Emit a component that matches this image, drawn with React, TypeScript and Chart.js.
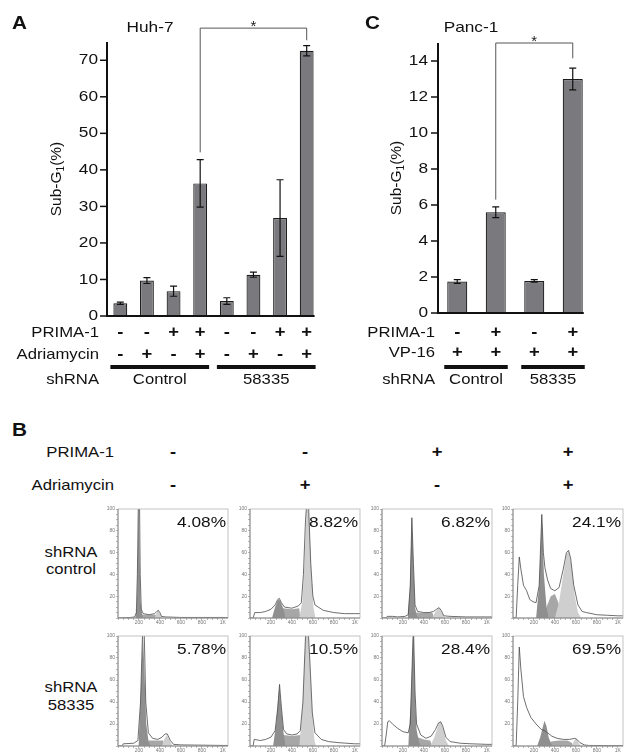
import React, { useEffect, useRef } from "react";
import { Chart, registerables } from "chart.js";
Chart.register(...registerables);

const FONT = "'Liberation Sans', Arial, Helvetica, sans-serif";
const SX = 1.15;

// ---------- Panel A (Huh-7) ----------
const huhLabels = ["C1", "C2", "C3", "C4", "K1", "K2", "K3", "K4"];
const huhPrima = ["-", "-", "+", "+", "-", "-", "+", "+"];
const huhAdriamycin = ["-", "+", "-", "+", "-", "+", "-", "+"];
const huhValues = [3.5, 9.7, 6.8, 36.3, 4.1, 11.3, 26.8, 72.6];
const huhErrors = [0.3, 0.8, 1.4, 6.5, 0.9, 0.7, 10.5, 1.4];
const huhTicks = [0, 10, 20, 30, 40, 50, 60, 70];
const huhGroups = ["Control", "58335"];
const huhGroupSpans = [[0, 3], [4, 7]];

// ---------- Panel C (Panc-1) ----------
const pancLabels = ["C1", "C2", "K1", "K2"];
const pancPrima = ["-", "+", "-", "+"];
const pancVP16 = ["+", "+", "+", "+"];
const pancValues = [1.75, 5.6, 1.78, 13.0];
const pancErrors = [0.1, 0.3, 0.07, 0.6];
const pancTicks = [0, 2, 4, 6, 8, 10, 12, 14];
const pancGroups = ["Control", "58335"];
const pancGroupSpans = [[0, 1], [2, 3]];

// ---------- Panel B (histograms) ----------
const bPrima = ["-", "-", "+", "+"];
const bAdriamycin = ["-", "+", "-", "+"];
const bRowLabels = [["shRNA", "control"], ["shRNA", "58335"]];
const bPercents = [["4.08%", "8.82%", "6.82%", "24.1%"], ["5.78%", "10.5%", "28.4%", "69.5%"]];
const histXMajor = [200, 400, 600, 800, 1000];
const histXMajorLabels = ["200", "400", "600", "800", "1K"];
const histYMajor = [20, 40, 60, 80, 100];

// shRNA control
const ctrlBaseOutline = [[0,0],[120,0.5],[160,1],[175,5],[185,40],[195,110],[205,110],[212,40],[222,8],[240,4],[300,3],[350,4],[370,6],[385,7],[400,5],[415,1.5],[450,1],[600,0.5],[1000,0.5],[1050,0.3]];
const ctrlBaseG1 = [[165,0],[180,10],[190,60],[197,110],[205,60],[215,15],[230,4],[240,0]];
const ctrlBaseS = [[220,0],[225,3],[300,3],[360,3],[370,0]];
const ctrlBaseG2 = [[350,0],[365,4],[385,7],[400,4],[420,0]];

const ctrlAdrOutline = [[0,0],[30,0],[45,5],[100,5],[150,6],[200,8],[240,12],[265,17],[280,18],[300,14],[330,10],[400,9],[460,11],[490,14],[510,40],[530,90],[545,110],[560,100],[580,50],[600,20],[620,12],[700,7],[800,5],[900,4],[1000,4],[1050,4]];
const ctrlAdrG1 = [[210,0],[240,10],[265,16],[280,17],[300,13],[320,8],[340,0]];
const ctrlAdrS = [[300,0],[310,9],[400,8],[470,9],[480,0]];
const ctrlAdrG2 = [[470,0],[500,15],[520,50],[540,100],[550,110],[565,90],[585,40],[605,10],[625,0]];

const ctrlPrimaOutline = [[0,0],[40,0],[50,1.5],[100,1.5],[150,1],[220,1.5],[250,3],[270,30],[285,92],[300,50],[315,12],[340,6],[400,5],[450,5],[490,6],[520,8],[545,9.5],[565,7],[590,2],[650,1.5],[800,1],[1000,1],[1050,1]];
const ctrlPrimaG1 = [[245,0],[265,25],[285,92],[300,48],[315,10],[330,3],[345,0]];
const ctrlPrimaS = [[300,0],[320,5],[400,4.5],[480,5],[500,0]];
const ctrlPrimaG2 = [[480,0],[510,6],[545,9.5],[570,5],[600,0]];

const ctrlBothOutline = [[0,0],[30,0],[45,30],[60,56],[75,45],[100,30],[130,25],[160,17],[190,15],[220,14],[250,30],[275,95],[290,60],[305,46],[330,35],[360,27],[400,25],[440,28],[480,45],[510,60],[530,62],[550,55],[580,30],[620,12],[660,6],[700,5],[800,3],[900,2.5],[1000,2],[1050,2]];
const ctrlBothG1 = [[220,0],[250,30],[275,95],[295,40],[320,10],[340,0]];
const ctrlBothS = [[300,0],[320,10],[360,20],[400,22],[430,15],[460,5],[480,0]];
const ctrlBothG2 = [[400,0],[440,15],[480,40],[510,58],[530,62],[555,50],[590,20],[620,5],[650,0]];

// shRNA 58335
const kdBaseOutline = [[0,0],[40,0],[50,2],[150,2.5],[190,5],[215,40],[235,105],[250,105],[265,40],[290,12],[330,7],[380,6],[420,8],[450,11],[470,11],[500,5],[530,1.5],[600,1],[1000,0.5],[1050,0.5]];
const kdBaseG1 = [[195,0],[215,40],[238,105],[255,60],[270,20],[290,5],[310,0]];
const kdBaseS = [[280,0],[290,5],[380,5],[430,5],[440,0]];
const kdBaseG2 = [[420,0],[440,6],[465,10],[490,6],[520,0]];

const kdAdrOutline = [[0,0],[30,0],[40,6],[100,5],[150,6],[200,8],[240,14],[265,35],[282,56],[300,35],[320,15],[350,11],[400,10],[450,11],[480,14],[505,40],[530,100],[550,115],[570,80],[595,30],[620,12],[680,6],[750,4],[850,3],[1000,2],[1050,2]];
const kdAdrG1 = [[220,0],[250,20],[280,55],[300,33],[320,12],[340,0]];
const kdAdrS = [[300,0],[320,10],[400,9],[480,10],[490,0]];
const kdAdrG2 = [[470,0],[505,38],[530,100],[550,115],[570,78],[595,28],[615,5],[630,0]];

const kdPrimaOutline = [[0,0],[25,0],[40,10],[55,22],[70,23],[100,20],[150,16],[200,13],[250,12],[270,20],[290,80],[300,110],[315,50],[330,20],[370,10],[420,7],[470,9],[510,15],[540,21],[560,22],[580,18],[610,8],[650,4],[750,2.5],[850,2],[1000,1.5],[1050,1.5]];
const kdPrimaG1 = [[250,0],[275,40],[300,110],[315,45],[330,15],[350,5],[370,0]];
const kdPrimaS = [[320,0],[340,8],[400,6],[460,5],[480,0]];
const kdPrimaG2 = [[460,0],[500,8],[540,20],[560,22],[585,15],[610,5],[640,0]];

const kdBothOutline = [[0,0],[30,0],[45,40],[60,90],[75,70],[100,45],[130,35],[170,26],[220,20],[270,15],[300,14],[330,12],[370,9],[420,7],[480,6],[540,6],[590,7],[610,6],[640,3],[680,1],[720,0.5],[1000,0.3],[1050,0.3]];
const kdBothG1 = [[230,0],[260,8],[300,23],[320,18],[340,8],[360,3],[380,0]];
const kdBothS = [[340,0],[360,4],[440,5],[520,5],[560,3],[580,0]];
const kdBothG2 = [[560,0],[580,4],[600,7],[615,5],[640,1],[660,0]];

const histGrid = [
  [
    { outline: ctrlBaseOutline, g1: ctrlBaseG1, s: ctrlBaseS, g2: ctrlBaseG2 },
    { outline: ctrlAdrOutline, g1: ctrlAdrG1, s: ctrlAdrS, g2: ctrlAdrG2 },
    { outline: ctrlPrimaOutline, g1: ctrlPrimaG1, s: ctrlPrimaS, g2: ctrlPrimaG2 },
    { outline: ctrlBothOutline, g1: ctrlBothG1, s: ctrlBothS, g2: ctrlBothG2 },
  ],
  [
    { outline: kdBaseOutline, g1: kdBaseG1, s: kdBaseS, g2: kdBaseG2 },
    { outline: kdAdrOutline, g1: kdAdrG1, s: kdAdrS, g2: kdAdrG2 },
    { outline: kdPrimaOutline, g1: kdPrimaG1, s: kdPrimaS, g2: kdPrimaG2 },
    { outline: kdBothOutline, g1: kdBothG1, s: kdBothS, g2: kdBothG2 },
  ],
];

function txt(ctx: any, s: string, x: number, y: number, size: number, align: string, weight = "normal", color = "#111") {
  ctx.save();
  ctx.font = `${weight} ${size}px ${FONT}`;
  ctx.textBaseline = "middle";
  ctx.textAlign = align;
  ctx.fillStyle = color;
  ctx.translate(x, y);
  ctx.scale(SX, 1);
  ctx.fillText(s, 0, 0);
  ctx.restore();
}

function BarPanel({ spec }: { spec: any }) {
  const ref = useRef<HTMLCanvasElement>(null);
  useEffect(() => {
    const sp = spec;
    const ox = sp.left, oy = sp.top;
    const deco = {
      id: "deco" + sp.letter,
      afterDraw(chart: any) {
        const ctx = chart.ctx;
        const ca = chart.chartArea;
        const ys = chart.scales.y;
        const bars = chart.getDatasetMeta(0).data as any[];
        const last = bars[bars.length - 1];
        ctx.save();
        ctx.strokeStyle = "#111";
        ctx.fillStyle = "#111";
        // axes
        ctx.lineWidth = 2;
        ctx.beginPath();
        ctx.moveTo(ca.left, ca.bottom + 1);
        ctx.lineTo(ca.left, ys.getPixelForValue(sp.yMax));
        ctx.moveTo(ca.left - 1, ca.bottom);
        ctx.lineTo(last.x + last.width / 2 + 1, ca.bottom);
        ctx.stroke();
        // y ticks
        ctx.lineWidth = 1.5;
        sp.ticks.forEach((t: number) => {
          const y = ys.getPixelForValue(t);
          ctx.beginPath();
          ctx.moveTo(ca.left - 7, y);
          ctx.lineTo(ca.left, y);
          ctx.stroke();
          txt(ctx, String(t), ca.left - sp.tickGap, y, 15, "right");
        });
        // error bars
        ctx.lineWidth = 1.2;
        bars.forEach((b: any, i: number) => {
          const v = sp.values[i], e = sp.errors[i];
          const yt = ys.getPixelForValue(v + e);
          const yb = ys.getPixelForValue(v - e);
          ctx.beginPath();
          ctx.moveTo(b.x, yt); ctx.lineTo(b.x, yb);
          ctx.moveTo(b.x - 3.5, yt); ctx.lineTo(b.x + 3.5, yt);
          ctx.moveTo(b.x - 3.5, yb); ctx.lineTo(b.x + 3.5, yb);
          ctx.stroke();
        });
        // significance bracket
        const br = sp.bracket;
        const x1 = bars[br.from].x, x2 = bars[br.to].x;
        const yTop = ys.getPixelForValue(br.top);
        ctx.lineWidth = 1;
        ctx.strokeStyle = "#555";
        ctx.beginPath();
        ctx.moveTo(x1, ys.getPixelForValue(br.leftEnd));
        ctx.lineTo(x1, yTop);
        ctx.lineTo(x2, yTop);
        ctx.lineTo(x2, ys.getPixelForValue(br.rightEnd));
        ctx.stroke();
        ctx.font = `15px ${FONT}`;
        ctx.textAlign = "center";
        ctx.textBaseline = "alphabetic";
        ctx.fillStyle = "#222";
        ctx.fillText("*", (x1 + x2) / 2, yTop + 3);
        // condition rows
        sp.rows.forEach((r: any) => {
          const y = r.y - oy;
          txt(ctx, r.name, sp.rowLabelRight - ox, y, 14.5, "right");
          r.signs.forEach((s: string, i: number) => txt(ctx, s, bars[i].x, y, 16, "center", "bold"));
        });
        // shRNA groups
        ctx.fillStyle = "#111";
        sp.groupSpans.forEach((g: number[], gi: number) => {
          const a = bars[g[0]], b = bars[g[1]];
          const xa = a.x - a.width / 2 - 3, xb = b.x + b.width / 2 + 2;
          ctx.fillRect(xa, sp.lineY - oy - 2, xb - xa, 4);
          txt(ctx, sp.groupNames[gi], (xa + xb) / 2, sp.groupY - oy, 14.5, "center");
        });
        txt(ctx, "shRNA", sp.rowLabelRight - ox, sp.groupY - oy, 14.5, "right");
        // y title with subscript
        ctx.save();
        ctx.translate(sp.yTitleX - ox, (ca.top + ca.bottom) / 2);
        ctx.rotate(-Math.PI / 2);
        ctx.fillStyle = "#111";
        ctx.textBaseline = "alphabetic";
        ctx.textAlign = "left";
        const big = 15.5, small = 10;
        ctx.font = `${big}px ${FONT}`;
        const w1 = ctx.measureText("Sub-G").width;
        const w3 = ctx.measureText("(%)").width;
        ctx.font = `${small}px ${FONT}`;
        const w2 = ctx.measureText("1").width;
        let xx = -(w1 + w2 + w3) / 2;
        const base = big * 0.358;
        ctx.font = `${big}px ${FONT}`;
        ctx.fillText("Sub-G", xx, base); xx += w1;
        ctx.font = `${small}px ${FONT}`;
        ctx.fillText("1", xx, base + 3); xx += w2;
        ctx.font = `${big}px ${FONT}`;
        ctx.fillText("(%)", xx, base);
        ctx.restore();
        // letter and title
        txt(ctx, sp.letter, sp.letterX - ox, sp.letterY - oy, 18, "left", "bold");
        txt(ctx, sp.title, sp.titleX - ox, sp.titleY - oy, 15, "center");
        ctx.restore();
      },
    };
    const chart = new Chart(ref.current as any, {
      type: "bar",
      data: {
        labels: sp.labels,
        datasets: [
          {
            data: sp.values,
            backgroundColor: "#7a7a7e",
            borderColor: "#1c1c1c",
            borderWidth: 1.2,
            barPercentage: 0.52,
            categoryPercentage: 1,
          },
        ],
      },
      options: {
        responsive: false,
        maintainAspectRatio: false,
        animation: false,
        events: [],
        layout: {
          padding: {
            left: sp.chartLeft - sp.left,
            right: sp.left + sp.width - sp.chartRight,
            top: sp.chartTop - sp.top,
            bottom: sp.top + sp.height - sp.chartBottom,
          },
        },
        plugins: { legend: { display: false }, tooltip: { enabled: false } },
        scales: {
          x: { display: false },
          y: { display: false, min: 0, max: sp.yMax },
        },
      } as any,
      plugins: [deco],
    });
    return () => chart.destroy();
  }, []);
  return (
    <canvas
      ref={ref}
      width={spec.width}
      height={spec.height}
      style={{ position: "absolute", left: spec.left, top: spec.top, width: spec.width, height: spec.height }}
    />
  );
}

function Hist({ left, top, areaW, areaH, data }: any) {
  const ref = useRef<HTMLCanvasElement>(null);
  const yW = 18, xH = 10, padT = 3, padR = 4;
  useEffect(() => {
    const toPts = (a: number[][]) => a.map(([x, y]) => ({ x, y }));
    const minorX: number[] = [];
    for (let v = 0; v <= 1000; v += 50) minorX.push(v);
    const minorY: number[] = [];
    for (let v = 0; v <= 100; v += 5) minorY.push(v);
    const frame = {
      id: "frame",
      afterDraw(c: any) {
        const { left: l, top: t, right: r, bottom: b } = c.chartArea;
        const ctx = c.ctx;
        ctx.save();
        ctx.strokeStyle = "#b5b5b5";
        ctx.lineWidth = 0.8;
        ctx.strokeRect(l, t, r - l, b - t);
        ctx.strokeStyle = "#777";
        ctx.beginPath();
        ctx.moveTo(l, t); ctx.lineTo(l, b); ctx.lineTo(r, b);
        ctx.stroke();
        ctx.restore();
      },
    };
    const fillSet = (d: number[][], color: string) => ({
      data: toPts(d), borderWidth: 0, borderColor: color, backgroundColor: color, fill: "origin", pointRadius: 0, tension: 0,
    });
    const chart = new Chart(ref.current as any, {
      type: "line",
      data: {
        datasets: [
          { data: toPts(data.outline), borderColor: "#4a4a4a", borderWidth: 0.8, pointRadius: 0, fill: false, tension: 0 },
          fillSet(data.g1, "#8f8f8f"),
          fillSet(data.g2, "#cfcfcf"),
          fillSet(data.s, "#a7a7a7"),
        ],
      },
      options: {
        responsive: false,
        maintainAspectRatio: false,
        animation: false,
        events: [],
        layout: { padding: { top: padT, right: padR, left: 0, bottom: 0 } },
        plugins: { legend: { display: false }, tooltip: { enabled: false } },
        scales: {
          x: {
            type: "linear",
            min: 0,
            max: 1050,
            afterBuildTicks: (ax: any) => { ax.ticks = minorX.map((v) => ({ value: v })); },
            afterFit: (ax: any) => { ax.height = xH; },
            ticks: {
              autoSkip: false, maxRotation: 0, minRotation: 0, padding: 0,
              font: { size: 5, family: FONT }, color: "#777",
              callback: (v: any) => {
                const i = histXMajor.indexOf(v);
                return i >= 0 ? histXMajorLabels[i] : "";
              },
            },
            grid: { drawOnChartArea: false, tickLength: 2, color: "#888", lineWidth: 0.6 },
            border: { display: false },
          },
          y: {
            min: 0,
            max: 100,
            afterBuildTicks: (ax: any) => { ax.ticks = minorY.map((v) => ({ value: v })); },
            afterFit: (ax: any) => { ax.width = yW; },
            ticks: {
              autoSkip: false, padding: 1,
              font: { size: 5, family: FONT }, color: "#777",
              callback: (v: any) => (histYMajor.indexOf(v) >= 0 ? String(v) : ""),
            },
            grid: { drawOnChartArea: false, tickLength: 2, color: "#888", lineWidth: 0.6 },
            border: { display: false },
          },
        },
      } as any,
      plugins: [frame],
    });
    return () => chart.destroy();
  }, []);
  const w = yW + areaW + padR, h = padT + areaH + xH;
  return (
    <canvas
      ref={ref}
      width={w}
      height={h}
      style={{ position: "absolute", left: left - yW, top: top - padT, width: w, height: h }}
    />
  );
}

function Label({ x, y, text, size, align = "center", weight = 400 }: any) {
  const origin = align === "right" ? "right center" : align === "left" ? "left center" : "center center";
  const tx = align === "right" ? "-100%" : align === "left" ? "0" : "-50%";
  return (
    <div
      style={{
        position: "absolute", left: x, top: y, fontFamily: FONT, fontSize: size, fontWeight: weight,
        lineHeight: 1, whiteSpace: "nowrap", color: "#111",
        transform: `translate(${tx}, -50%) scaleX(${SX})`, transformOrigin: origin,
      }}
    >
      {text}
    </div>
  );
}

const specA = {
  left: 0, top: 0, width: 320, height: 395,
  chartLeft: 107, chartRight: 320, chartTop: 42, chartBottom: 316,
  labels: huhLabels, values: huhValues, errors: huhErrors, ticks: huhTicks, yMax: 75,
  rows: [
    { name: "PRIMA-1", signs: huhPrima, y: 333 },
    { name: "Adriamycin", signs: huhAdriamycin, y: 355 },
  ],
  groupNames: huhGroups, groupSpans: huhGroupSpans, lineY: 367, groupY: 380, rowLabelRight: 99,
  bracket: { from: 3, to: 7, top: 78.8, leftEnd: 44.8, rightEnd: 75.5 },
  letter: "A", letterX: 12, letterY: 24, title: "Huh-7", titleX: 150, titleY: 28, yTitleX: 55, tickGap: 9,
};

const specC = {
  left: 320, top: 0, width: 308, height: 395,
  chartLeft: 438, chartRight: 592, chartTop: 43, chartBottom: 313,
  labels: pancLabels, values: pancValues, errors: pancErrors, ticks: pancTicks, yMax: 15,
  rows: [
    { name: "PRIMA-1", signs: pancPrima, y: 333 },
    { name: "VP-16", signs: pancVP16, y: 353 },
  ],
  groupNames: pancGroups, groupSpans: pancGroupSpans, lineY: 367, groupY: 380, rowLabelRight: 435,
  bracket: { from: 1, to: 3, top: 15.0, leftEnd: 6.3, rightEnd: 14.15 },
  letter: "C", letterX: 365, letterY: 24, title: "Panc-1", titleX: 471, titleY: 28, yTitleX: 395, tickGap: 10,
};

const panelLefts = [118, 250, 382, 513];
const rowTops = [508, 635];
const rowHeights = [110, 111];
const rowLabelYs = [[552, 569], [687, 705]];
const AREA_W = 110;

export default function App() {
  return (
    <div style={{ position: "fixed", left: 0, top: 0, width: 628, height: 755, background: "#fff", overflow: "hidden" }}>
      <BarPanel spec={specA} />
      <BarPanel spec={specC} />
      <Label x={12} y={430} text="B" size={18} align="left" weight={700} />
      <Label x={114} y={452} text="PRIMA-1" size={14.5} align="right" />
      <Label x={114} y={485} text="Adriamycin" size={14.5} align="right" />
      {bPrima.map((s, i) => (
        <Label key={"p" + i} x={panelLefts[i] + AREA_W / 2} y={452} text={s} size={16} weight={700} />
      ))}
      {bAdriamycin.map((s, i) => (
        <Label key={"a" + i} x={panelLefts[i] + AREA_W / 2} y={485} text={s} size={16} weight={700} />
      ))}
      {bRowLabels.map((lines, r) =>
        lines.map((t, k) => <Label key={"r" + r + k} x={71} y={rowLabelYs[r][k]} text={t} size={14.5} />)
      )}
      {histGrid.map((row, r) =>
        row.map((d, c) => (
          <Hist key={"h" + r + c} left={panelLefts[c]} top={rowTops[r]} areaW={AREA_W} areaH={rowHeights[r]} data={d} />
        ))
      )}
      {bPercents.map((row, r) =>
        row.map((p, c) => (
          <Label key={"pc" + r + c} x={panelLefts[c] + AREA_W - 2} y={rowTops[r] + 13} text={p} size={15} align="right" />
        ))
      )}
    </div>
  );
}
